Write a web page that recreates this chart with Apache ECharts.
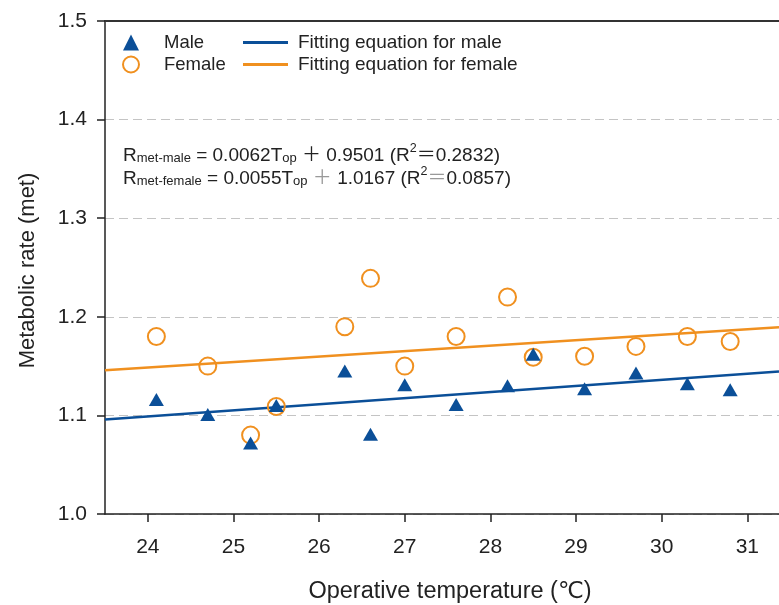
<!DOCTYPE html>
<html>
<head>
<meta charset="utf-8">
<script src="https://cdn.jsdelivr.net/npm/echarts@6/dist/echarts.min.js"></script>
<style>html,body{margin:0;padding:0;background:#fff;}#c{width:779px;height:605px;}</style>
</head>
<body>
<div id="c"></div>
<script>
// Data
var xTicks = [24, 25, 26, 27, 28, 29, 30, 31];
var maleT =   [24.1, 24.7, 25.2, 25.5, 26.3, 26.6, 27.0, 27.6, 28.2, 28.5, 29.1, 29.7, 30.3, 30.8];
var maleM =   [1.116, 1.101, 1.072, 1.110, 1.145, 1.081, 1.131, 1.111, 1.130, 1.162, 1.127, 1.143, 1.132, 1.126];
var femaleT = [24.1, 24.7, 25.2, 25.5, 26.3, 26.6, 27.0, 27.6, 28.2, 28.5, 29.1, 29.7, 30.3, 30.8];
var femaleM = [1.180, 1.150, 1.080, 1.109, 1.190, 1.239, 1.150, 1.180, 1.220, 1.159, 1.160, 1.170, 1.180, 1.175];
var fitMaleT = [23.5, 31.37];
var fitMaleM = [1.0958, 1.1446];
var fitFemaleT = [23.5, 31.37];
var fitFemaleM = [1.1459, 1.1893];

var blue = '#0b4f98';
var orange = '#f0901f';
var font = 'Liberation Sans, Arial, sans-serif';
var eqFont = 'Liberation Sans, Arial, Noto Sans CJK SC, sans-serif';
var degFont = 'DejaVu Sans, sans-serif';

function pairs(a, b) { return a.map(function (v, i) { return [v, b[i]]; }); }

var eqRich = {
  m: {fontSize: 19, fontFamily: eqFont, fill: '#222', verticalAlign: 'bottom', lineHeight: 23},
  s: {fontSize: 13, fontFamily: font, fill: '#222', verticalAlign: 'bottom', lineHeight: 18},
  p: {fontSize: 12.5, fontFamily: font, fill: '#222', verticalAlign: 'top', lineHeight: 23},
  g: {fontSize: 19, fontFamily: eqFont, fill: '#999', verticalAlign: 'bottom', lineHeight: 23}
};

var chart = echarts.init(document.getElementById('c'), null, {renderer: 'canvas'});
chart.setOption({
  animation: false,
  backgroundColor: '#fff',
  textStyle: {fontFamily: font},
  grid: {left: 105, top: 21, bottom: 91, right: 0, outerBoundsMode: 'none', containLabel: false},
  legend: [{
    data: ['Male', 'Female'],
    orient: 'vertical', left: 117, top: 28, itemGap: 3,
    itemWidth: 16, itemHeight: 16,
    textStyle: {fontSize: 18.5, color: '#222', fontFamily: font, padding: [0, 0, 0, 20]}
  }, {
    data: [{name: 'Fitting equation for male', icon: 'rect'}, {name: 'Fitting equation for female', icon: 'rect'}],
    orient: 'vertical', left: 238, top: 28, itemGap: 3,
    itemWidth: 45, itemHeight: 3,
    textStyle: {fontSize: 19, color: '#222', fontFamily: font, padding: [0, 0, 0, 5], lineHeight: 19}
  }],
  xAxis: [{
    type: 'value', min: 23.5, max: 31.37,
    name: '{a|Operative temperature (}{b|\u2103}{a|)}', nameLocation: 'middle', nameGap: 66,
    nameTextStyle: {fontSize: 23.5, color: '#222', fontFamily: font, padding: [0, 0, 0, 16],
      rich: {a: {fontSize: 23.5, fontFamily: font, color: '#222'}, b: {fontSize: 23, fontFamily: degFont, color: '#222'}}},
    axisLine: {onZero: false, lineStyle: {color: '#222', width: 1.5}},
    axisTick: {show: true, length: 8, customValues: xTicks, lineStyle: {color: '#222', width: 1.5}},
    axisLabel: {customValues: xTicks, fontSize: 21, color: '#222', margin: 23, fontFamily: font},
    splitLine: {show: false}
  }, {
    type: 'value', position: 'top', min: 23.5, max: 31.37,
    axisLine: {show: true, onZero: false, lineStyle: {color: '#333', width: 2}},
    axisTick: {show: false}, axisLabel: {show: false}, splitLine: {show: false}
  }],
  yAxis: {
    type: 'value', min: 1.0, max: 1.5, interval: 0.1,
    name: 'Metabolic rate (met)', nameLocation: 'middle', nameGap: 66,
    nameTextStyle: {fontSize: 22, color: '#222', fontFamily: font, padding: [0, 6, 0, 0]},
    axisLine: {show: true, lineStyle: {color: '#222', width: 1.5}},
    axisTick: {show: true, length: 8, lineStyle: {color: '#222', width: 1.5}},
    axisLabel: {fontSize: 21, color: '#222', margin: 18, fontFamily: font,
      formatter: function (v) { return v.toFixed(1); }},
    splitLine: {show: true, lineStyle: {color: '#c4c4c4', type: [9, 5], width: 1.2}}
  },
  series: [{
    name: 'Fitting equation for male', type: 'line', data: pairs(fitMaleT, fitMaleM),
    symbol: 'none', lineStyle: {color: blue, width: 2.5}, itemStyle: {color: blue}, z: 2
  }, {
    name: 'Fitting equation for female', type: 'line', data: pairs(fitFemaleT, fitFemaleM),
    symbol: 'none', lineStyle: {color: orange, width: 2.5}, itemStyle: {color: orange}, z: 2
  }, {
    name: 'Female', type: 'scatter', data: pairs(femaleT, femaleM),
    symbol: 'circle', symbolSize: 17,
    itemStyle: {color: 'rgba(0,0,0,0)', borderColor: orange, borderWidth: 2, opacity: 1}, z: 3
  }, {
    name: 'Male', type: 'scatter', data: pairs(maleT, maleM),
    symbol: 'triangle', symbolSize: [15, 13],
    itemStyle: {color: blue, opacity: 1}, z: 4
  }],
  graphic: [{
    type: 'text', left: 123, top: 142,
    style: {
      text: '{m|R}{s|met-male}{m| = 0.0062T}{s|op}{m| \uFF0B 0.9501 (R}{p|2}{m|\uFF1D0.2832)}',
      rich: eqRich
    }
  }, {
    type: 'text', left: 123, top: 165,
    style: {
      text: '{m|R}{s|met-female}{m| = 0.0055T}{s|op}{g| \uFF0B }{m|1.0167 (R}{p|2}{g|\uFF1D}{m|0.0857)}',
      rich: eqRich
    }
  }]
});
</script>
</body>
</html>
